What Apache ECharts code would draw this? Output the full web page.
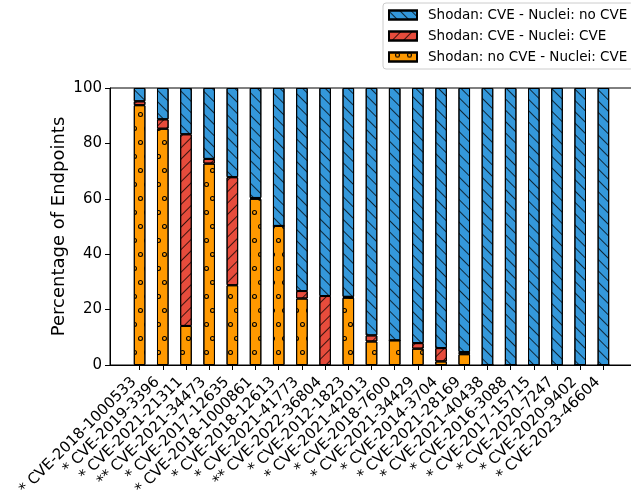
<!DOCTYPE html>
<html><head><meta charset="utf-8">
<script src="https://cdn.jsdelivr.net/npm/echarts@6/dist/echarts.min.js"></script>
<style>html,body{margin:0;padding:0;background:#fff}#c{width:631px;height:496px}</style>
</head><body><div id="c"></div>
<script>
const categories = ['* CVE-2018-1000533', '* CVE-2019-3396', '* CVE-2021-21311', '** CVE-2021-34473',
  '* CVE-2017-12635', '* CVE-2018-1000861', '* CVE-2018-12613', '* CVE-2021-41773', '** CVE-2022-36804',
  '* CVE-2012-1823', '* CVE-2021-42013', '* CVE-2018-7600', '* CVE-2021-34429', '* CVE-2014-3704',
  '* CVE-2021-28169', '* CVE-2021-40438', '* CVE-2016-3088', '* CVE-2017-15715', '* CVE-2020-7247',
  '* CVE-2020-9402', '* CVE-2023-46604'];
const shodanNoCveNucleiCve = [93.8, 85.3, 14.1, 72.7, 28.8, 60.0, 50.2, 24.0, 0, 24.3, 8.5, 8.9, 5.9, 1.3, 3.9, 0, 0, 0, 0, 0, 0];
const shodanCveNucleiCve   = [1.4, 3.4, 69.2, 1.7, 39.0, 0.3, 0, 2.7, 24.9, 0.3, 2.2, 0, 2.0, 4.8, 0.8, 0, 0, 0, 0, 0, 0];
const shodanCveNucleiNoCve = [4.8, 11.3, 16.7, 25.6, 32.2, 39.7, 49.8, 73.3, 75.1, 75.4, 89.3, 91.1, 92.1, 93.9, 95.3, 100, 100, 100, 100, 100, 100];
const seriesNames = ['Shodan: CVE - Nuclei: no CVE', 'Shodan: CVE - Nuclei: CVE', 'Shodan: no CVE - Nuclei: CVE'];
const yTicks = [0, 20, 40, 60, 80, 100];

const FONT = 'DejaVu Sans';
const ring = 'path://M10,0A10,10,0,1,1,-10,0A10,10,0,1,1,10,0ZM5.8,0A5.8,5.8,0,1,0,-5.8,0A5.8,5.8,0,1,0,5.8,0Z';

const decalBlue = { color: 'rgba(0,0,0,0.75)', symbol: 'rect', symbolSize: 1, dashArrayX: [1, 0], dashArrayY: [1, 7], rotation: Math.PI / 4 };
const decalRed = { color: 'rgba(0,0,0,0.75)', symbol: 'rect', symbolSize: 1, dashArrayX: [1, 0], dashArrayY: [1, 7], rotation: -Math.PI / 4 };
const decalOrange = { color: '#000', symbol: ring, symbolSize: 1, symbolKeepAspect: true, dashArrayX: [[5, 7], [0, 6, 5, 1]], dashArrayY: [5, 8.5], rotation: 0 };

const TOP = 88, BOTTOM = 131;
const chart = echarts.init(document.getElementById('c'), null, { renderer: 'canvas' });
chart.setOption({
  animation: false,
  backgroundColor: '#fff',
  grid: [
    { left: 128, right: 16, top: TOP, bottom: BOTTOM, containLabel: false, outerBoundsMode: 'none' },
    { left: 110, right: -2, top: TOP, bottom: BOTTOM, show: true, borderColor: '#000', borderWidth: 1, containLabel: false, outerBoundsMode: 'none' }
  ],
  legend: {
    orient: 'vertical', left: 383, top: 3,
    data: seriesNames,
    itemWidth: 28, itemHeight: 9, itemGap: 7,
    icon: 'rect',
    textStyle: { fontFamily: FONT, fontSize: 13.5, color: '#000', padding: [0, 0, 0, 6], lineHeight: 14 },
    borderColor: '#cccccc', borderWidth: 1, borderRadius: 3, padding: [5, 6, 5, 5], backgroundColor: '#fff'
  },
  xAxis: [
    {
      type: 'category', gridIndex: 0, data: categories, boundaryGap: true,
      axisLine: { show: false },
      axisTick: { show: true, alignWithLabel: true, length: 5, lineStyle: { color: '#000' } },
      axisLabel: { show: true, interval: 0, rotate: 45, margin: 9, padding: [0, 8, 0, 0], fontFamily: FONT, fontSize: 15, color: '#000' }
    },
    {
      type: 'value', gridIndex: 1, min: 0, max: 1,
      splitLine: { show: false }, axisTick: { show: false }, axisLabel: { show: false },
      axisLine: { show: true, lineStyle: { color: '#000', width: 1 } }
    }
  ],
  yAxis: [
    { type: 'value', gridIndex: 0, min: 0, max: 100, show: false },
    {
      type: 'value', gridIndex: 1, min: 0, max: 100, interval: 20,
      name: 'Percentage of Endpoints', nameLocation: 'middle', nameGap: 42, nameMoveOverlap: false,
      nameTextStyle: { fontFamily: FONT, fontSize: 18, color: '#000' },
      splitLine: { show: false },
      axisLine: { show: true, lineStyle: { color: '#000', width: 1 } },
      axisTick: { show: true, length: 5, lineStyle: { color: '#000' } },
      axisLabel: { fontFamily: FONT, fontSize: 15, color: '#000', margin: 8, formatter: v => yTicks.includes(v) ? String(v) : '' }
    }
  ],
  series: [
    { name: seriesNames[2], type: 'bar', stack: 's', xAxisIndex: 0, yAxisIndex: 0, barWidth: '50%', data: shodanNoCveNucleiCve,
      itemStyle: { color: '#ff9900', borderColor: '#000', borderWidth: 1, decal: decalOrange } },
    { name: seriesNames[1], type: 'bar', stack: 's', xAxisIndex: 0, yAxisIndex: 0, barWidth: '50%', data: shodanCveNucleiCve,
      itemStyle: { color: '#e74c3c', borderColor: '#000', borderWidth: 1, decal: decalRed } },
    { name: seriesNames[0], type: 'bar', stack: 's', xAxisIndex: 0, yAxisIndex: 0, barWidth: '50%', data: shodanCveNucleiNoCve,
      itemStyle: { color: '#3498db', borderColor: '#000', borderWidth: 1, decal: decalBlue } }
  ]
});
</script></body></html>
